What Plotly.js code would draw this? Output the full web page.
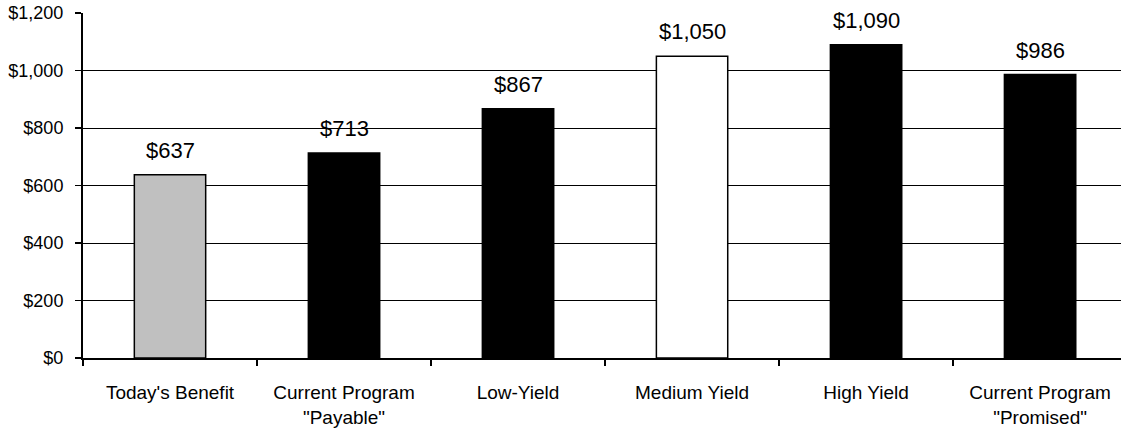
<!DOCTYPE html>
<html><head><meta charset="utf-8">
<script src="https://cdn.plot.ly/plotly-3.0.1.min.js"></script>
<style>html,body{margin:0;padding:0;background:#fff}</style>
</head><body><div id="chart" style="width:1121px;height:436px"></div>
<script>
const categories = ["Today's Benefit", "Current Program<br>\"Payable\"", "Low-Yield", "Medium Yield", "High Yield", "Current Program<br>\"Promised\""];
const values = [637, 713, 867, 1050, 1090, 986];
const barColors = ["#C0C0C0", "#000000", "#000000", "#FFFFFF", "#000000", "#000000"];
const valueLabels = ["$637", "$713", "$867", "$1,050", "$1,090", "$986"];
const yTickVals = [0, 200, 400, 600, 800, 1000, 1200];
const yTickText = ["$0", "$200", "$400", "$600", "$800", "$1,000", "$1,200"];

const trace = {
  type: 'bar', x: categories, y: values, width: 0.41,
  marker: {color: barColors, line: {color: '#000', width: 1.5}},
  hoverinfo: 'none'
};
const annotations = categories.map((c, i) => ({
  x: c, y: values[i], text: valueLabels[i], showarrow: false,
  yanchor: 'bottom', yshift: 10, font: {family: 'Liberation Sans, Arial', size: 22, color: '#000'}
}));
const layout = {
  width: 1121, height: 436,
  margin: {l: 83, r: 0, t: 13, b: 78},
  paper_bgcolor: '#fff', plot_bgcolor: '#fff',
  font: {family: 'Liberation Sans, Arial', color: '#000'},
  showlegend: false,
  xaxis: {type: 'category', range: [-0.5, 5.465], tickson: 'boundaries', ticks: 'outside', ticklen: 6, tickcolor: '#000', tickwidth: 1.5,
          showline: true, linecolor: '#000', linewidth: 2, showgrid: false, tickfont: {size: 19}, ticklabelstandoff: 16, fixedrange: true},
  yaxis: {range: [0, 1200], tickvals: yTickVals, ticktext: yTickText, ticks: 'outside', ticklen: 6, tickcolor: '#000', tickwidth: 1.5,
          showline: true, linecolor: '#000', linewidth: 2, showgrid: true, gridcolor: '#000', gridwidth: 1, zeroline: false,
          tickfont: {size: 18}, ticklabelstandoff: 8, fixedrange: true},
  annotations: annotations
};
Plotly.newPlot('chart', [trace], layout, {displayModeBar: false, staticPlot: true});
</script></body></html>
